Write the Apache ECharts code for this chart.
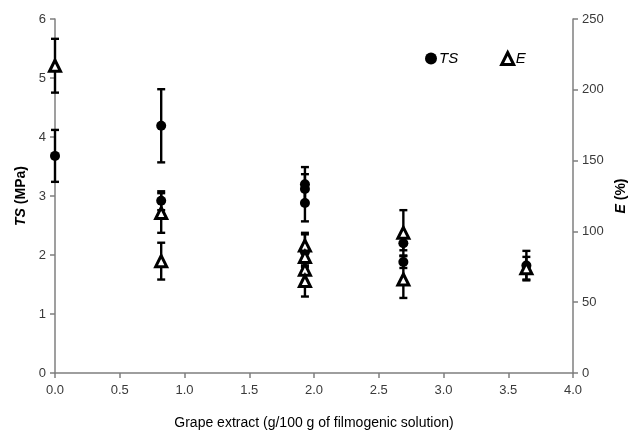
<!DOCTYPE html>
<html><head><meta charset="utf-8">
<script src="https://cdn.jsdelivr.net/npm/echarts@6/dist/echarts.min.js"></script>
<style>html,body{margin:0;padding:0;background:#fff}#c{width:638px;height:441px}</style>
</head><body><div id="c"></div>
<script>
// Data
const tsX   = [0, 0.82, 0.82, 1.93, 1.93, 1.93, 1.93, 2.69, 2.69, 3.64];
const tsVal = [3.68, 4.19, 2.92, 3.20, 3.12, 2.88, 2.05, 2.20, 1.88, 1.82];
const tsErr = [0.44, 0.62, 0.16, 0.29, 0.25, 0.31, 0.30, 0.12, 0.10, 0.25];
const eX    = [0, 0.82, 0.82, 1.93, 1.93, 1.93, 1.93, 2.69, 2.69, 3.64];
const eVal  = [217, 113, 79, 90, 82, 73, 65, 99, 66, 74];
const eErr  = [19, 14, 13, 9, 7, 8, 11, 16, 13, 8];

const font = 'Liberation Sans, Arial, sans-serif';
const axisGray = '#7f7f7f';

function errSeries(xs, vs, es, yIdx) {
  return {
    type: 'custom', yAxisIndex: yIdx, z: 2, silent: true,
    data: xs.map((x, i) => [x, vs[i] - es[i], vs[i] + es[i]]),
    renderItem: function (params, api) {
      const lo = api.coord([api.value(0), api.value(1)]);
      const hi = api.coord([api.value(0), api.value(2)]);
      const w = 4;
      const st = { stroke: '#000', lineWidth: 2.4 };
      return { type: 'group', children: [
        { type: 'line', shape: { x1: lo[0], y1: lo[1], x2: hi[0], y2: hi[1] }, style: st },
        { type: 'line', shape: { x1: lo[0] - w, y1: lo[1], x2: lo[0] + w, y2: lo[1] }, style: st },
        { type: 'line', shape: { x1: hi[0] - w, y1: hi[1], x2: hi[0] + w, y2: hi[1] }, style: st }
      ]};
    }
  };
}

const chart = echarts.init(document.getElementById('c'));
chart.setOption({
  animation: false,
  textStyle: { fontFamily: font },
  grid: { left: 55, right: 65, top: 19, bottom: 68 },
  legend: {
    left: 420, top: 46, itemGap: 42, itemWidth: 12, itemHeight: 12,
    textStyle: { fontSize: 15, fontStyle: 'italic', color: '#000', fontFamily: font, padding: [0, 0, 0, -3] },
    data: [
      { name: 'TS', icon: 'circle', itemStyle: { color: '#000', opacity: 1 } },
      { name: 'E', icon: 'triangle', itemStyle: { color: '#fff', borderColor: '#000', borderWidth: 3, opacity: 1 } }
    ]
  },
  xAxis: {
    type: 'value', min: 0, max: 4, interval: 0.5,
    name: 'Grape extract (g/100 g of filmogenic solution)',
    nameLocation: 'middle', nameGap: 43,
    nameTextStyle: { fontSize: 14, fontWeight: 500, color: '#000', fontFamily: font },
    axisLine: { lineStyle: { color: axisGray, width: 1.5 } },
    axisTick: { show: true, length: 5, lineStyle: { color: axisGray, width: 1.5 } },
    axisLabel: { fontSize: 13, color: '#3a3a3a', margin: 11, formatter: v => v.toFixed(1) },
    splitLine: { show: false }
  },
  yAxis: [
    {
      type: 'value', min: 0, max: 6, interval: 1, position: 'left',
      name: '{i|TS} (MPa)', nameLocation: 'middle', nameGap: 26, nameRotate: 90,
      nameTextStyle: { fontSize: 14, fontWeight: 'bold', color: '#000', fontFamily: font,
        rich: { i: { fontStyle: 'italic', fontWeight: 'bold', fontSize: 14, color: '#000', fontFamily: font } } },
      axisLine: { show: true, lineStyle: { color: axisGray, width: 1.5 } },
      axisTick: { show: true, length: 5, lineStyle: { color: axisGray, width: 1.5 } },
      axisLabel: { fontSize: 13, color: '#3a3a3a', margin: 9 },
      splitLine: { show: false }
    },
    {
      type: 'value', min: 0, max: 250, interval: 50, position: 'right',
      name: '{i|E} (%)', nameLocation: 'middle', nameGap: 23, nameRotate: 90,
      nameTextStyle: { fontSize: 14, fontWeight: 'bold', color: '#000', fontFamily: font,
        rich: { i: { fontStyle: 'italic', fontWeight: 'bold', fontSize: 14, color: '#000', fontFamily: font } } },
      axisLine: { show: true, lineStyle: { color: axisGray, width: 1.5 } },
      axisTick: { show: true, length: 5, lineStyle: { color: axisGray, width: 1.5 } },
      axisLabel: { fontSize: 13, color: '#3a3a3a', margin: 9 },
      splitLine: { show: false }
    }
  ],
  series: [
    errSeries(tsX, tsVal, tsErr, 0),
    errSeries(eX, eVal, eErr, 1),
    {
      name: 'TS', type: 'scatter', yAxisIndex: 0, z: 3, symbol: 'circle', symbolSize: 10,
      itemStyle: { color: '#000', opacity: 1 },
      data: tsX.map((x, i) => [x, tsVal[i]])
    },
    {
      name: 'E', type: 'scatter', yAxisIndex: 1, z: 3, symbol: 'triangle', symbolSize: 11,
      itemStyle: { color: '#fff', borderColor: '#000', borderWidth: 3, opacity: 1 },
      data: eX.map((x, i) => [x, eVal[i]])
    }
  ]
});
</script></body></html>
